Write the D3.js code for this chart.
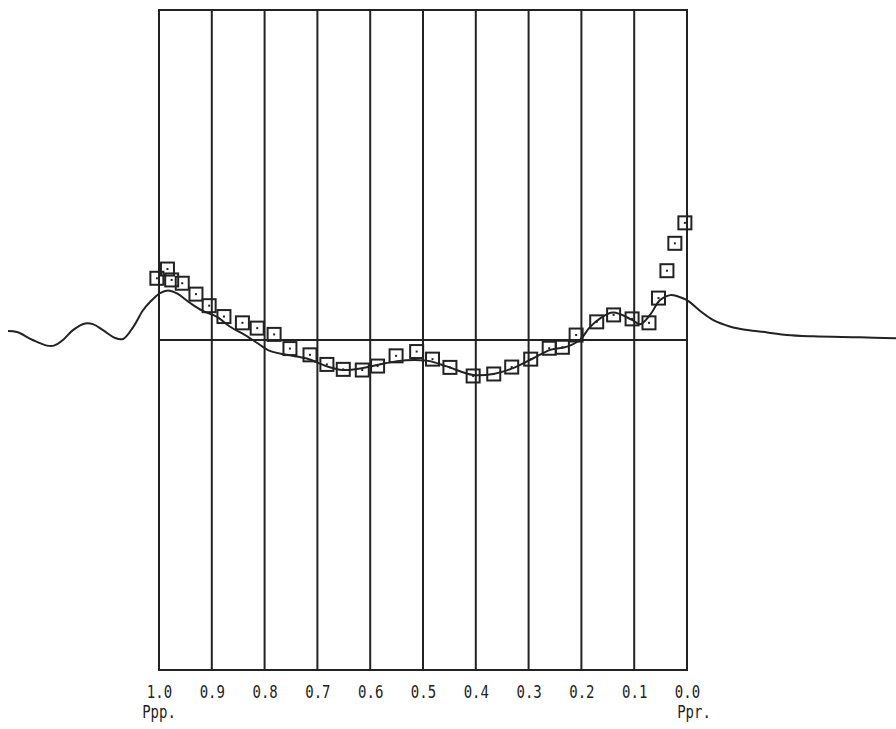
<!DOCTYPE html>
<html><head><meta charset="utf-8">
<script src="https://cdn.jsdelivr.net/npm/d3@7"></script>
<style>body{margin:0;background:#fff}svg{display:block}</style>
</head><body>
<svg id="c" width="896" height="729"></svg>
<script>
// Data
const tickValues = [1.0,0.9,0.8,0.7,0.6,0.5,0.4,0.3,0.2,0.1,0.0];
const tickLabels = ["1.0","0.9","0.8","0.7","0.6","0.5","0.4","0.3","0.2","0.1","0.0"];
const endLabels = ["Ppp.","Ppr."];
const baseline = 1.0;
const markerX = [1.004,0.984,0.976,0.956,0.930,0.905,0.877,0.842,0.814,0.782,0.752,0.714,0.682,0.651,0.615,0.586,0.551,0.512,0.482,0.449,0.405,0.366,0.332,0.296,0.261,0.236,0.210,0.171,0.139,0.104,0.072,0.054,0.038,0.023,0.004];
const markerY = [1.187,1.215,1.182,1.172,1.139,1.104,1.071,1.052,1.036,1.017,0.974,0.955,0.926,0.911,0.909,0.921,0.952,0.965,0.942,0.917,0.891,0.897,0.918,0.942,0.975,0.978,1.015,1.055,1.076,1.064,1.052,1.127,1.210,1.293,1.355];
const curveX = [1.286,1.269,1.239,1.212,1.199,1.182,1.163,1.140,1.125,1.106,1.083,1.068,1.049,1.030,1.017,0.998,0.983,0.966,0.941,0.917,0.890,0.866,0.833,0.814,0.790,0.758,0.720,0.682,0.652,0.614,0.587,0.549,0.506,0.487,0.455,0.405,0.367,0.331,0.292,0.259,0.227,0.203,0.184,0.165,0.140,0.104,0.089,0.070,0.051,0.032,0.017,0.000,-0.025,-0.049,-0.081,-0.114,-0.152,-0.189,-0.239,-0.328,-0.396];
const curveY = [1.027,1.024,1.000,0.983,0.983,1.000,1.030,1.050,1.048,1.030,1.006,1.003,1.039,1.091,1.115,1.142,1.150,1.141,1.112,1.088,1.070,1.041,1.011,0.991,0.967,0.955,0.944,0.920,0.909,0.915,0.924,0.936,0.939,0.936,0.920,0.894,0.897,0.914,0.944,0.970,0.980,1.000,1.039,1.065,1.083,1.061,1.048,1.076,1.121,1.136,1.132,1.121,1.088,1.061,1.041,1.030,1.023,1.015,1.011,1.008,1.005];

const svg = d3.select("#c");
const x = d3.scaleLinear().domain([1,0]).range([159,687]);
const y = d3.scaleLinear().domain([0,2]).range([670,10]);
const ink = "#222";
const font = "DejaVu Sans Mono, DejaVu Sans";

// vertical grid lines
svg.append("g").selectAll("line").data(tickValues).join("line")
  .attr("x1", d=>x(d)).attr("x2", d=>x(d)).attr("y1", y(2)).attr("y2", y(0))
  .attr("stroke", ink).attr("stroke-width", 2);
// frame
svg.append("rect").attr("x", x(1)).attr("y", y(2)).attr("width", x(0)-x(1)).attr("height", y(0)-y(2))
  .attr("fill","none").attr("stroke", ink).attr("stroke-width", 2);
// baseline
svg.append("line").attr("x1", x(1)).attr("x2", x(0)).attr("y1", y(baseline)).attr("y2", y(baseline))
  .attr("stroke", ink).attr("stroke-width", 2);

// axis labels
const axis = d3.axisBottom(x).tickValues(tickValues).tickSize(0)
  .tickFormat((d,i)=>tickLabels[i]);
const ag = svg.append("g").attr("transform", `translate(0,${y(0)})`).call(axis);
ag.select(".domain").remove();
ag.selectAll("text").attr("fill", ink).attr("font-family", font)
  .attr("font-size", 14).attr("dy", null).attr("y", 0)
  .attr("transform", "translate(0,27.5) scale(1,1.25)");

svg.append("g").selectAll("text").data(endLabels).join("text")
  .attr("x", (d,i)=> i===0 ? x(1) : x(0)+7)
  .attr("y", 0).attr("text-anchor","middle")
  .attr("transform", "translate(0,718) scale(1,1.25)")
  .attr("font-family", font).attr("font-size", 14).attr("fill", ink)
  .text(d=>d);

// curve
const pts = curveX.map((v,i)=>[v, curveY[i]]);
svg.append("path").datum(pts)
  .attr("d", d3.line().x(d=>x(d[0])).y(d=>y(d[1])).curve(d3.curveCatmullRom.alpha(0.5)))
  .attr("fill","none").attr("stroke", ink).attr("stroke-width", 2);

// markers
const m = markerX.map((v,i)=>[v, markerY[i]]);
const mg = svg.append("g");
mg.selectAll("rect.sq").data(m).join("rect").attr("class","sq")
  .attr("x", d=>x(d[0])-6.5).attr("y", d=>y(d[1])-6.5).attr("width", 13).attr("height", 13)
  .attr("fill","none").attr("stroke", ink).attr("stroke-width", 2);
mg.selectAll("rect.dot").data(m).join("rect").attr("class","dot")
  .attr("x", d=>x(d[0])-1).attr("y", d=>y(d[1])-1).attr("width", 2).attr("height", 2)
  .attr("fill", ink);
</script>
</body></html>
